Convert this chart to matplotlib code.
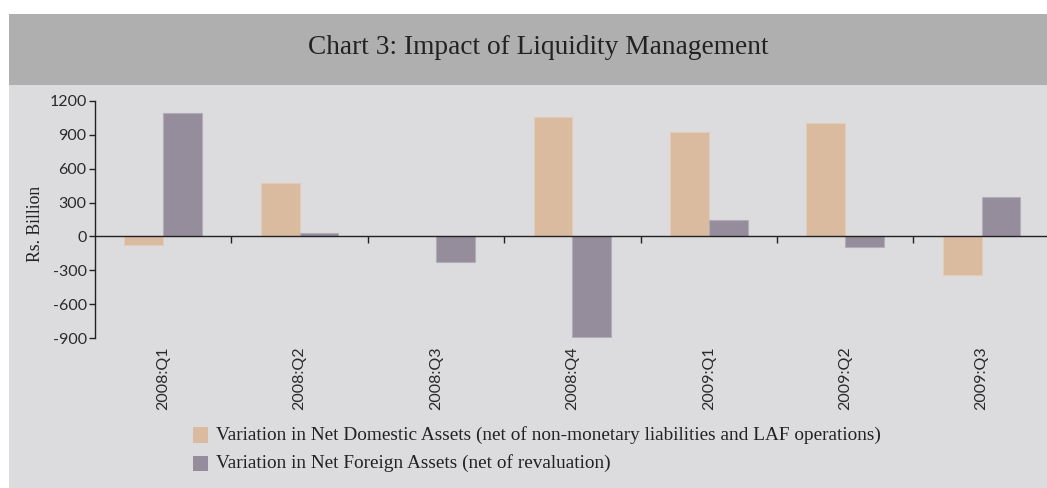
import matplotlib
matplotlib.use("Agg")
import matplotlib.pyplot as plt
import numpy as np
from matplotlib.patches import Rectangle

plt.rcParams['axes.unicode_minus'] = False

categories = ["2008:Q1", "2008:Q2", "2008:Q3", "2008:Q4", "2009:Q1", "2009:Q2", "2009:Q3"]
nda = [-75, 470, 0, 1055, 922, 999, -343]
nfa = [1087, 35, -225, -892, 148, -89, 349]
yticks = [-900, -600, -300, 0, 300, 600, 900, 1200]
title = "Chart 3: Impact of Liquidity Management"
label_nda = "Variation in Net Domestic Assets (net of non-monetary liabilities and LAF operations)"
label_nfa = "Variation in Net Foreign Assets (net of revaluation)"
ylabel = "Rs. Billion"

W, H = 1047, 488
fig = plt.figure(figsize=(W / 100, H / 100), dpi=100)
fig.patch.set_facecolor("white")

def fx(px):
    return px / W

def fy(py):
    return 1 - py / H

# background panels
fig.patches.append(Rectangle((fx(9), 0), fx(W) - fx(9), fy(85), transform=fig.transFigure,
                             facecolor="#dcdcde", edgecolor="none", zorder=-10))
fig.patches.append(Rectangle((fx(9), fy(85)), fx(W) - fx(9), fy(14) - fy(85), transform=fig.transFigure,
                             facecolor="#afafaf", edgecolor="none", zorder=-10))

serif = ["Liberation Serif", "DejaVu Serif"]
sans = ["Lato", "DejaVu Sans"]

fig.text(fx(538), fy(48), title, ha="center", va="center", fontsize=19.7, family=serif, color="#222222")

ax_left, ax_right = 95, 1047
ax_top, ax_bot = 100.7, 338.3
ax = fig.add_axes([fx(ax_left), fy(ax_bot), fx(ax_right) - fx(ax_left), fy(ax_top) - fy(ax_bot)])
ax.set_facecolor("none")
ax.set_zorder(1)

x = np.arange(len(categories))
bw = 0.285
c_nda = "#dbbb9f"
c_nfa = "#958d9b"
ax.bar(x - bw / 2, nda, bw, color=c_nda, edgecolor="#e3cbb5", linewidth=0.8, zorder=2)
ax.bar(x + bw / 2, nfa, bw, color=c_nfa, edgecolor="#b3adb8", linewidth=0.8, zorder=2)

unit_px = 136.4
ax.set_xlim(-0.5, -0.5 + (ax_right - ax_left) / unit_px)
ax.set_ylim(-900, 1200)

for s in ["top", "right"]:
    ax.spines[s].set_visible(False)
ax.spines["bottom"].set_position(("data", 0))
ax.spines["bottom"].set_color("#222222")
ax.spines["bottom"].set_linewidth(1.0)
ax.spines["bottom"].set_zorder(3)
ax.spines["left"].set_color("#222222")
ax.spines["left"].set_linewidth(1.0)

ax.set_yticks(yticks)
ax.set_yticklabels([str(v) for v in yticks], family=sans, fontsize=11.5, color="#2a2a2a")
ax.tick_params(axis="y", direction="out", length=4, width=1, color="#222222", pad=2)

ax.set_xticks(np.arange(0.5, len(categories) - 0.5, 1.0))
ax.set_xticklabels([])
ax.tick_params(axis="x", direction="out", length=5, width=1, color="#222222")

for xi, lab in zip(x, categories):
    ax.annotate(lab, xy=(xi, 0), xycoords=("data", "axes fraction"), xytext=(0, -6),
                textcoords="offset points", rotation=90, ha="center", va="top",
                family=sans, fontsize=11.5, color="#2a2a2a")

fig.text(fx(36), fy(224), ylabel, rotation=90, ha="center", va="center",
         family=serif, fontsize=12.7, color="#222222")

# legend
for i, (lab, col) in enumerate([(label_nda, c_nda), (label_nfa, c_nfa)]):
    top = 427.3 + i * 28.4
    fig.patches.append(Rectangle((fx(193), fy(top + 15.4)), fx(15.4), fy(top) - fy(top + 15.4),
                                 transform=fig.transFigure, facecolor=col, edgecolor="none"))
    fig.text(fx(216), fy(top + 7.7), lab, ha="left", va="center", family=serif,
             fontsize=13.9, color="#222222")

fig.savefig("out.png", dpi=100, facecolor=fig.get_facecolor())
